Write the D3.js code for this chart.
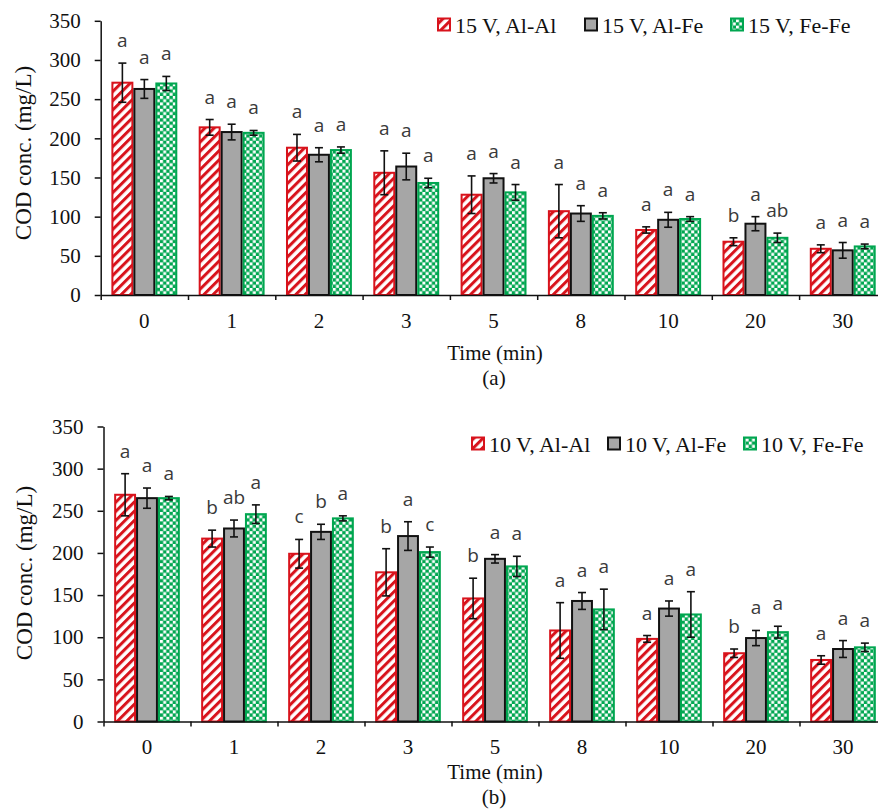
<!DOCTYPE html>
<html>
<head>
<meta charset="utf-8">
<script src="https://cdn.jsdelivr.net/npm/d3@7"></script>
<style>
  html, body { margin: 0; padding: 0; background: #fff; }
  svg { display: block; }
</style>
</head>
<body>
<script>
// ---------------- DATA ----------------
const categories = ["0", "1", "2", "3", "5", "8", "10", "20", "30"];
const yTicks = [0, 50, 100, 150, 200, 250, 300, 350];

// Panel (a) – 15 V
const seriesA = ["15 V, Al-Al", "15 V, Al-Fe", "15 V, Fe-Fe"];
const alal15 = [271, 214, 188, 156, 128, 107, 83, 68, 59];
const alal15Err = [25, 10, 17, 28, 24, 34, 4, 5, 5];
const alfe15 = [263, 208, 179, 164, 149, 104, 96, 91, 57];
const alfe15Err = [12, 10, 9, 17, 6, 10, 9.5, 9, 10];
const fefe15 = [270, 207, 185, 143, 131, 101, 97, 73, 62];
const fefe15Err = [9, 3, 4, 6, 10, 4, 3, 6, 3];
const alal15Let = ["a", "a", "a", "a", "a", "a", "a", "b", "a"];
const alfe15Let = ["a", "a", "a", "a", "a", "a", "a", "a", "a"];
const fefe15Let = ["a", "a", "a", "a", "a", "a", "a", "ab", "a"];

// Panel (b) – 10 V
const seriesB = ["10 V, Al-Al", "10 V, Al-Fe", "10 V, Fe-Fe"];
const alal10 = [269, 217, 199, 177, 146, 108, 98, 81, 73];
const alal10Err = [25, 10, 17, 28, 24, 33, 4, 5, 5];
const alfe10 = [265, 229, 225, 220, 193, 143, 134, 99, 86];
const alfe10Err = [12, 10, 9, 17, 5, 10, 9, 9, 10];
const fefe10 = [265, 246, 241, 201, 184, 133, 127, 106, 88];
const fefe10Err = [2, 11, 3, 6, 12, 24, 27, 7, 5];
const alal10Let = ["a", "b", "c", "b", "b", "a", "a", "b", "a"];
const alfe10Let = ["a", "ab", "b", "a", "a", "a", "a", "a", "a"];
const fefe10Let = ["a", "a", "a", "c", "a", "a", "a", "a", "a"];

const yTitle = "COD conc. (mg/L)";
const xTitle = "Time (min)";

// ---------------- STYLE ----------------
const W = 878, H = 810;
const SERIF = "'Liberation Serif', 'Times New Roman', serif";
const SANS = "'Open Sans', 'Liberation Sans', sans-serif";
const RED = "#d8131c", GREEN = "#00a650", GRAY = "#a6a6a6";

const svg = d3.select("body").append("svg").attr("width", W).attr("height", H);
const defs = svg.append("defs");

// hatch pattern (red "/" stripes)
const hatch = defs.append("pattern").attr("id", "hatch")
  .attr("patternUnits", "userSpaceOnUse").attr("width", 6.5).attr("height", 6.5)
  .attr("patternTransform", "rotate(45)");
hatch.append("rect").attr("width", 6.5).attr("height", 6.5).attr("fill", "#fff");
hatch.append("rect").attr("width", 3).attr("height", 6.5).attr("fill", RED);

// checker pattern (green / white)
const check = defs.append("pattern").attr("id", "check")
  .attr("patternUnits", "userSpaceOnUse").attr("width", 6.4).attr("height", 6.4);
check.append("rect").attr("width", 6.4).attr("height", 6.4).attr("fill", GREEN);
check.append("rect").attr("width", 3).attr("height", 3).attr("fill", "#fff");
check.append("rect").attr("x", 3.2).attr("y", 3.2).attr("width", 3).attr("height", 3).attr("fill", "#fff");

const styles = [
  { fill: "url(#hatch)", stroke: RED },
  { fill: GRAY, stroke: "#111" },
  { fill: "url(#check)", stroke: GREEN }
];

function drawPanel(cfg) {
  const g = svg.append("g");
  const y = d3.scaleLinear().domain([0, 350]).range([cfg.y0, cfg.y350]);
  const step = cfg.step;
  const x = d3.scaleBand().domain(categories)
    .range([cfg.x0, cfg.x0 + categories.length * step])
    .paddingInner(0.245).paddingOuter(0.1225);
  const xs = d3.scaleBand().domain([0, 1, 2]).range([0, x.bandwidth()]);
  const xb = d3.scaleLinear().domain([0, categories.length]).range([cfg.x0, cfg.x0 + categories.length * step]);

  // bars, error bars, letters
  cfg.series.forEach((s, si) => {
    const vals = cfg.values[si], errs = cfg.errors[si], lets = cfg.letters[si];
    const sg = g.append("g");
    categories.forEach((c, ci) => {
      const bx = x(c) + xs(si);
      const bw = xs.bandwidth();
      sg.append("rect")
        .attr("x", bx + 1).attr("y", y(vals[ci]))
        .attr("width", bw - 2).attr("height", cfg.y0 - y(vals[ci]))
        .attr("fill", styles[si].fill).attr("stroke", styles[si].stroke)
        .attr("stroke-width", 2);
      const cx = bx + bw / 2;
      const top = y(vals[ci] + errs[ci]), bot = y(vals[ci] - errs[ci]);
      const eg = sg.append("g").attr("stroke", "#111").attr("stroke-width", 1.6);
      eg.append("line").attr("x1", cx).attr("x2", cx).attr("y1", top).attr("y2", bot);
      eg.append("line").attr("x1", cx - 4).attr("x2", cx + 4).attr("y1", top).attr("y2", top);
      eg.append("line").attr("x1", cx - 4).attr("x2", cx + 4).attr("y1", bot).attr("y2", bot);
      sg.append("text").attr("x", cx).attr("y", top - 16)
        .attr("text-anchor", "middle").attr("font-family", SANS)
        .attr("font-size", 19).attr("fill", "#3a3a3a").text(lets[ci]);
    });
  });

  // y axis
  const ya = g.append("g").attr("transform", `translate(${cfg.x0},0)`)
    .call(d3.axisLeft(y).tickValues(yTicks).tickSize(6).tickSizeOuter(0).tickPadding(14));
  ya.select(".domain").attr("stroke", "#111").attr("stroke-width", 1.5);
  ya.selectAll(".tick line").attr("stroke", "#111").attr("stroke-width", 1.5);
  ya.selectAll("text").attr("font-family", SERIF).attr("font-size", 21).attr("fill", "#111");

  // x axis: boundary ticks
  const xa = g.append("g").attr("transform", `translate(0,${cfg.y0})`)
    .call(d3.axisBottom(xb).tickValues(d3.range(categories.length + 1)).tickFormat("").tickSize(5).tickSizeOuter(0));
  xa.select(".domain").attr("stroke", "#111").attr("stroke-width", 1.5);
  xa.selectAll(".tick line").attr("stroke", "#111").attr("stroke-width", 1.5);

  // x labels
  const xl = g.append("g").attr("transform", `translate(0,${cfg.y0})`)
    .call(d3.axisBottom(x).tickSize(0));
  xl.select(".domain").remove();
  xl.selectAll("text").attr("y", cfg.labelDy).attr("dy", 0)
    .attr("font-family", SERIF).attr("font-size", 21).attr("fill", "#111");

  // titles
  g.append("text")
    .attr("transform", `translate(${cfg.yTitleX},${cfg.yTitleY}) rotate(-90)`)
    .attr("text-anchor", "middle").attr("dy", "0.35em")
    .attr("font-family", SERIF).attr("font-size", 23).attr("fill", "#111").text(yTitle);
  g.append("text").attr("x", 495).attr("y", cfg.xTitleY).attr("text-anchor", "middle")
    .attr("font-family", SERIF).attr("font-size", 21).attr("fill", "#111").text(xTitle);
  g.append("text").attr("x", 494).attr("y", cfg.capY).attr("text-anchor", "middle")
    .attr("font-family", SERIF).attr("font-size", 21).attr("fill", "#111").text(cfg.caption);

  // legend
  cfg.series.forEach((s, si) => {
    const lx = cfg.legendX[si];
    g.append("rect").attr("x", lx).attr("y", cfg.legendY - 6.5).attr("width", 12).attr("height", 12)
      .attr("fill", styles[si].fill).attr("stroke", styles[si].stroke).attr("stroke-width", 2);
    g.append("text").attr("x", lx + 17).attr("y", cfg.legendY).attr("dy", "0.35em")
      .attr("font-family", SERIF).attr("font-size", 22).attr("fill", "#111").text(s);
  });
}

drawPanel({
  x0: 100.7, step: 87.3, y0: 295, y350: 20.8,
  series: seriesA,
  values: [alal15, alfe15, fefe15],
  errors: [alal15Err, alfe15Err, fefe15Err],
  letters: [alal15Let, alfe15Let, fefe15Let],
  labelDy: 33, yTitleX: 22.5, yTitleY: 153,
  xTitleY: 360, capY: 385, caption: "(a)",
  legendX: [438, 585, 731], legendY: 25
});

drawPanel({
  x0: 103.5, step: 87, y0: 721.5, y350: 426.5,
  series: seriesB,
  values: [alal10, alfe10, fefe10],
  errors: [alal10Err, alfe10Err, fefe10Err],
  letters: [alal10Let, alfe10Let, fefe10Let],
  labelDy: 32, yTitleX: 24, yTitleY: 573,
  xTitleY: 779, capY: 804, caption: "(b)",
  legendX: [472, 608, 744], legendY: 444
});
</script>
</body>
</html>
